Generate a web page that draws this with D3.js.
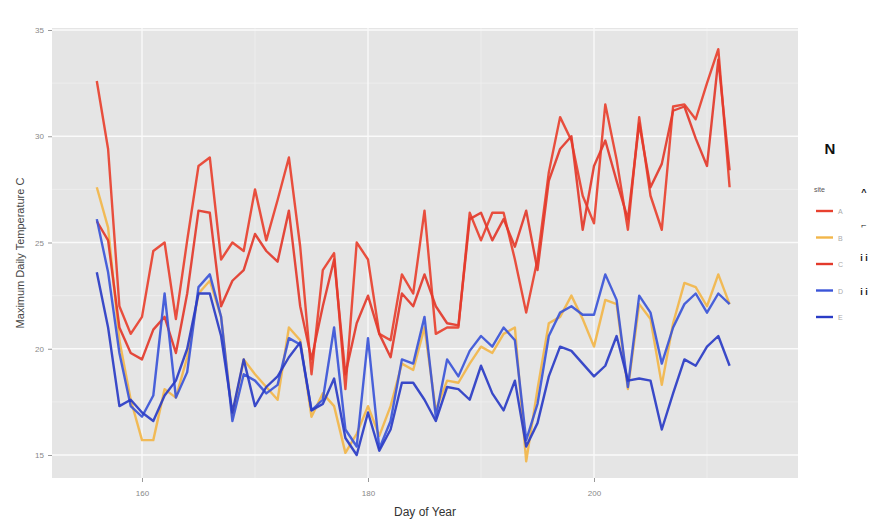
<!DOCTYPE html>
<html lang="en">
<head>
  <meta charset="UTF-8">
  <title>Maximum Daily Temperature</title>
  <script src="https://d3js.org/d3.v7.min.js"></script>
  <style>
    body { margin: 0; background: #fff; }
    text { font-family: "Liberation Sans", Arial, sans-serif; }
  </style>
</head>
<body>
  <svg id="svg" width="884" height="531"></svg>
  <script>
    // data, one value per day (day 156 .. 212)
    var days = d3.range(156, 213)
    var xTicks = [160, 180, 200]
    var yTicks = [15, 20, 25, 30, 35]
    var seriesNames = ['A', 'B', 'C', 'D', 'E']
    var seriesColors = ['#e8412f', '#f2b64a', '#e33a2b', '#3b55d8', '#2a3cc6']

    var redA = [32.6, 29.4, 22.0, 20.7, 21.5, 24.6, 25.0, 21.4, 25.1, 28.6,
      29.0, 24.2, 25.0, 24.6, 27.5, 25.1, 27.0, 29.0, 24.8, 18.8,
      23.7, 24.5, 18.1, 25.0, 24.2, 20.7, 20.4, 23.5, 22.6, 26.5,
      20.7, 21.0, 21.0, 26.4, 25.1, 26.4, 26.4, 24.2, 21.7, 24.2,
      28.3, 30.9, 29.8, 27.2, 25.9, 31.5, 28.9, 25.6, 30.9, 27.2,
      25.6, 31.4, 31.5, 30.8, 32.5, 34.1, 27.6]
    var orange = [27.6, 25.7, 20.4, 17.6, 15.7, 15.7, 18.1, 17.7, 19.6, 22.6,
      23.2, 21.5, 16.8, 19.5, 18.8, 18.2, 17.6, 21.0, 20.4, 16.8,
      17.9, 17.3, 15.1, 16.0, 17.3, 15.9, 17.3, 19.3, 19.0, 21.0,
      17.1, 18.5, 18.4, 19.3, 20.1, 19.8, 20.7, 21.0, 14.7, 18.1,
      21.2, 21.5, 22.5, 21.4, 20.1, 22.3, 22.1, 18.1, 22.1, 21.4,
      18.3, 21.2, 23.1, 22.9, 22.0, 23.5, 22.1]
    var redB = [26.0, 25.1, 21.0, 19.8, 19.5, 20.9, 21.5, 19.8, 22.6, 26.5,
      26.4, 22.0, 23.2, 23.7, 25.4, 24.6, 24.1, 26.5, 22.0, 19.5,
      22.0, 24.2, 18.8, 21.2, 22.5, 20.7, 19.6, 22.6, 22.0, 23.5,
      22.0, 21.2, 21.1, 26.1, 26.4, 25.1, 26.1, 24.8, 26.5, 23.7,
      27.9, 29.4, 30.0, 25.6, 28.6, 29.8, 27.9, 26.1, 30.6, 27.6,
      28.7, 31.2, 31.4, 29.9, 28.6, 33.6, 28.4]
    var blueA = [26.1, 23.6, 19.8, 17.3, 16.8, 17.8, 22.6, 17.7, 18.9, 22.9,
      23.5, 21.5, 16.6, 18.8, 18.5, 17.9, 18.3, 20.5, 20.2, 17.1,
      17.6, 21.0, 16.2, 15.4, 20.5, 15.3, 16.6, 19.5, 19.3, 21.5,
      16.8, 19.5, 18.7, 19.9, 20.6, 20.1, 21.0, 20.4, 15.7, 17.4,
      20.6, 21.7, 22.0, 21.6, 21.6, 23.5, 22.3, 18.2, 22.5, 21.7,
      19.3, 21.0, 22.1, 22.6, 21.7, 22.6, 22.1]
    var blueB = [23.6, 21.0, 17.3, 17.6, 17.0, 16.6, 17.8, 18.5, 20.0, 22.6,
      22.6, 20.6, 17.0, 19.5, 17.3, 18.2, 18.7, 19.6, 20.3, 17.1,
      17.4, 18.6, 15.8, 15.0, 17.0, 15.2, 16.2, 18.4, 18.4, 17.6,
      16.6, 18.2, 18.1, 17.6, 19.2, 17.9, 17.1, 18.5, 15.4, 16.5,
      18.7, 20.1, 19.9, 19.3, 18.7, 19.2, 20.6, 18.5, 18.6, 18.5,
      16.2, 17.9, 19.5, 19.2, 20.1, 20.6, 19.2]

    var series = [redA, orange, redB, blueA, blueB]

    var panel = { left: 52, right: 798, top: 28, bottom: 478 }

    var x = d3.scaleLinear().domain([160, 200]).range([142, 594])
    var y = d3.scaleLinear().domain([15, 35]).range([455, 30])

    var svg = d3.select('#svg')

    // panel background
    svg.append('rect')
      .attr('x', panel.left).attr('y', panel.top)
      .attr('width', panel.right - panel.left)
      .attr('height', panel.bottom - panel.top)
      .attr('fill', '#e5e5e5')

    var grid = svg.append('g')
    // minor grid lines
    var yMinor = yTicks.slice(0, -1).map(d => d + 2.5)
    var xMinor = [150, 170, 190, 210]
    grid.selectAll('.ymin').data(yMinor).enter().append('line')
      .attr('x1', panel.left).attr('x2', panel.right)
      .attr('y1', d => y(d)).attr('y2', d => y(d))
      .attr('stroke', '#f0f0f0').attr('stroke-width', 0.7)
    grid.selectAll('.xmin').data(xMinor.filter(d => x(d) > panel.left)).enter().append('line')
      .attr('y1', panel.top).attr('y2', panel.bottom)
      .attr('x1', d => x(d)).attr('x2', d => x(d))
      .attr('stroke', '#f0f0f0').attr('stroke-width', 0.7)
    // major grid lines
    grid.selectAll('.ymaj').data(yTicks).enter().append('line')
      .attr('x1', panel.left).attr('x2', panel.right)
      .attr('y1', d => y(d)).attr('y2', d => y(d))
      .attr('stroke', '#fafafa').attr('stroke-width', 1.4)
    grid.selectAll('.xmaj').data(xTicks).enter().append('line')
      .attr('y1', panel.top).attr('y2', panel.bottom)
      .attr('x1', d => x(d)).attr('x2', d => x(d))
      .attr('stroke', '#fafafa').attr('stroke-width', 1.4)

    // lines
    var line = d3.line()
      .x((d, i) => x(days[i]))
      .y(d => y(d))

    svg.append('g').selectAll('path')
      .data(series)
      .enter()
      .append('path')
      .attr('d', d => line(d))
      .attr('fill', 'none')
      .attr('stroke', (d, i) => seriesColors[i])
      .attr('stroke-width', 2.4)
      .attr('stroke-linejoin', 'round')
      .attr('opacity', 0.92)

    // axes
    var xAxis = d3.axisBottom(x).tickValues(xTicks).tickSize(4).tickPadding(8)
    svg.append('g')
      .attr('transform', 'translate(0,' + panel.bottom + ')')
      .call(xAxis)
      .call(g => g.select('.domain').remove())
      .call(g => g.selectAll('line').attr('stroke', '#999'))
      .call(g => g.selectAll('text').attr('fill', '#888').attr('font-size', 8))

    var yAxis = d3.axisLeft(y).tickValues(yTicks).tickSize(4).tickPadding(4)
    svg.append('g')
      .attr('transform', 'translate(' + panel.left + ',0)')
      .call(yAxis)
      .call(g => g.select('.domain').remove())
      .call(g => g.selectAll('line').attr('stroke', '#999'))
      .call(g => g.selectAll('text').attr('fill', '#888').attr('font-size', 8))

    // axis titles
    svg.append('text')
      .attr('x', (panel.left + panel.right) / 2).attr('y', 516)
      .attr('text-anchor', 'middle')
      .attr('font-size', 12).attr('fill', '#333')
      .text('Day of Year')

    svg.append('text')
      .attr('transform', 'translate(24,' + ((panel.top + panel.bottom) / 2) + ') rotate(-90)')
      .attr('text-anchor', 'middle')
      .attr('font-size', 11).attr('fill', '#444')
      .text('Maximum Daily Temperature C')

    // legend
    svg.append('text')
      .attr('x', 830).attr('y', 154)
      .attr('text-anchor', 'middle')
      .attr('font-size', 15).attr('font-weight', 'bold').attr('fill', '#111')
      .text('N')

    svg.append('text')
      .attr('x', 814).attr('y', 192)
      .attr('font-size', 7).attr('fill', '#555')
      .text('site')

    var legend = svg.append('g').attr('transform', 'translate(816,211)')
    var keys = legend.selectAll('g')
      .data(seriesNames)
      .enter()
      .append('g')
      .attr('transform', (d, i) => 'translate(0,' + (i * 26.5) + ')')
    keys.append('line')
      .attr('x1', 0).attr('x2', 17)
      .attr('stroke', (d, i) => seriesColors[i])
      .attr('stroke-width', 2.4)
    keys.append('text')
      .attr('x', 22).attr('y', 3)
      .attr('font-size', 7).attr('fill', '#aaa')
      .text(d => d)

    // dark marks on the far right of the legend
    var marks = [['^', 195], ['⌐', 228], ['i i', 261], ['i i', 295]]
    svg.append('g').selectAll('text')
      .data(marks)
      .enter()
      .append('text')
      .attr('x', 864).attr('y', d => d[1])
      .attr('text-anchor', 'middle')
      .attr('font-size', 9).attr('font-weight', 'bold').attr('fill', '#111')
      .text(d => d[0])
  </script>
</body>
</html>
